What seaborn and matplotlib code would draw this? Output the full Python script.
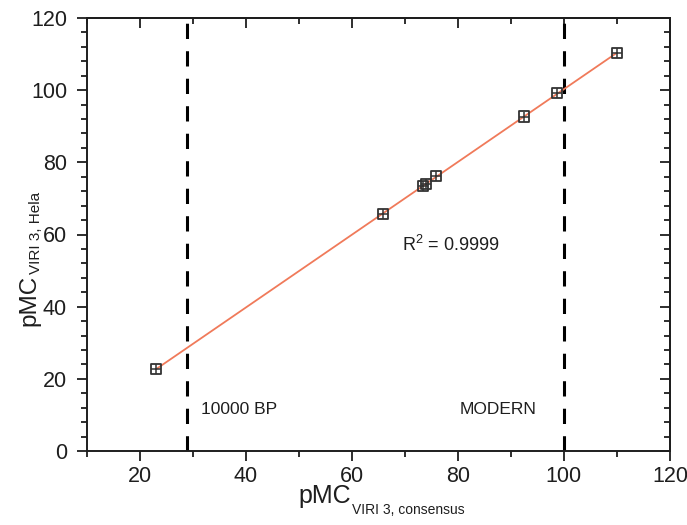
import matplotlib
matplotlib.use("Agg")
import matplotlib.pyplot as plt
import seaborn as sns
import numpy as np
import pandas as pd
from matplotlib.ticker import MultipleLocator

# Data
x_consensus = [23.1, 65.9, 73.5, 74.0, 75.8, 92.5, 98.7, 110.0]
y_hela = [22.7, 65.8, 73.4, 73.9, 76.1, 92.7, 99.1, 110.3]
fit_x = [23.1, 110.0]
bp_line = 28.9
modern_line = 100.0
r2_text = "R$^2$ = 0.9999"
x_main, x_sub = "pMC", "VIRI 3, consensus"
y_main, y_sub = "pMC", "VIRI 3, Hela"

sns.set_theme(style="white")
plt.rcParams['font.family'] = ['Liberation Sans', 'DejaVu Sans']
plt.rcParams['mathtext.fontset'] = 'custom'
plt.rcParams['mathtext.rm'] = 'Liberation Sans'
plt.rcParams['mathtext.it'] = 'Liberation Sans'

TXT = "#1e1e1e"
df = pd.DataFrame({"x": x_consensus, "y": y_hela})
slope, intercept = np.polyfit(x_consensus, y_hela, 1)
fit_df = pd.DataFrame({"x": fit_x, "y": [slope * v + intercept for v in fit_x]})

W, H = 687, 525
fig = plt.figure(figsize=(W / 100, H / 100), dpi=100)
ax = fig.add_axes([86.5 / W, 1 - 451 / H, (670 - 86.5) / W, (451 - 18) / H])

sns.lineplot(data=fit_df, x="x", y="y", ax=ax, color="#f07a5a", linewidth=1.3, zorder=2)
sns.scatterplot(data=df, x="x", y="y", ax=ax, marker="s", s=52, facecolor="none",
                edgecolor="#333333", linewidth=1.3, zorder=3)
sns.scatterplot(data=df, x="x", y="y", ax=ax, marker="+", s=52, color="#333333",
                linewidth=1.1, zorder=4)

ax.axvline(bp_line, color="black", linestyle=(0, (5, 4)), linewidth=2.2, zorder=1)
ax.axvline(modern_line, color="black", linestyle=(0, (5, 4)), linewidth=2.2, zorder=1)

ax.text(31.5, 11.4, "10000 BP", fontsize=12.5, color=TXT, va="center", ha="left")
ax.text(94.8, 11.4, "MODERN", fontsize=12.5, color=TXT, va="center", ha="right")
ax.text(78.7, 57.2, r2_text, fontsize=13, color=TXT, va="center", ha="center")

ax.set_xlim(10, 120)
ax.set_ylim(0, 120)
ax.set_xticks([20, 40, 60, 80, 100, 120])
ax.xaxis.set_minor_locator(MultipleLocator(10))
ax.yaxis.set_major_locator(MultipleLocator(20))
ax.yaxis.set_minor_locator(MultipleLocator(4))

ax.tick_params(which="both", direction="out", bottom=True, left=True, top=False, right=False,
               colors=TXT, labelsize=15.5, width=1.3)
ax.tick_params(which="major", length=7)
ax.tick_params(axis="x", which="major", pad=4)
ax.tick_params(axis="y", which="major", pad=7)
ax.tick_params(which="minor", length=4)
ax.set_xlabel("")
ax.set_ylabel("")

# mirrored inward ticks on top and right
axr = ax.secondary_yaxis("right")
axr.yaxis.set_major_locator(MultipleLocator(20))
axr.yaxis.set_minor_locator(MultipleLocator(4))
axr.tick_params(which="both", direction="in", labelright=False, width=1.3, colors=TXT)
axr.tick_params(which="major", length=7)
axr.tick_params(which="minor", length=4)
axt = ax.secondary_xaxis("top")
axt.set_xticks([20, 40, 60, 80, 100, 120])
axt.xaxis.set_minor_locator(MultipleLocator(10))
axt.tick_params(which="both", direction="in", labeltop=False, width=1.3, colors=TXT)
axt.tick_params(which="major", length=7)
axt.tick_params(which="minor", length=4)
for a in (axr, axt):
    for s in a.spines.values():
        s.set_linewidth(1.4)
        s.set_color(TXT)

for s in ax.spines.values():
    s.set_visible(True)
    s.set_linewidth(1.4)
    s.set_color(TXT)

# axis labels with small subscripts, placed in pixel coordinates
fig.canvas.draw()
renderer = fig.canvas.get_renderer()
to_fig = fig.transFigure.inverted()

def px(xp, yp_top):
    return to_fig.transform((xp, H - yp_top))

# x label
p = px(298, 503)
t1 = fig.text(p[0], p[1], x_main, fontsize=18, color=TXT, ha="left", va="baseline")
bb = t1.get_window_extent(renderer)
p2 = to_fig.transform((bb.x1 + 1, H - 514))
fig.text(p2[0], p2[1], x_sub, fontsize=10, color=TXT, ha="left", va="baseline")

# y label (rotated)
p = px(35, 326)
t3 = fig.text(p[0], p[1], y_main, fontsize=17.5, color=TXT, rotation=90,
              rotation_mode="anchor", ha="left", va="baseline")
bb = t3.get_window_extent(renderer)
p4 = to_fig.transform((40, bb.y1 + 1))
fig.text(p4[0], p4[1], y_sub, fontsize=11, color=TXT, rotation=90,
         rotation_mode="anchor", ha="left", va="baseline")

fig.savefig("out.png", dpi=100)
